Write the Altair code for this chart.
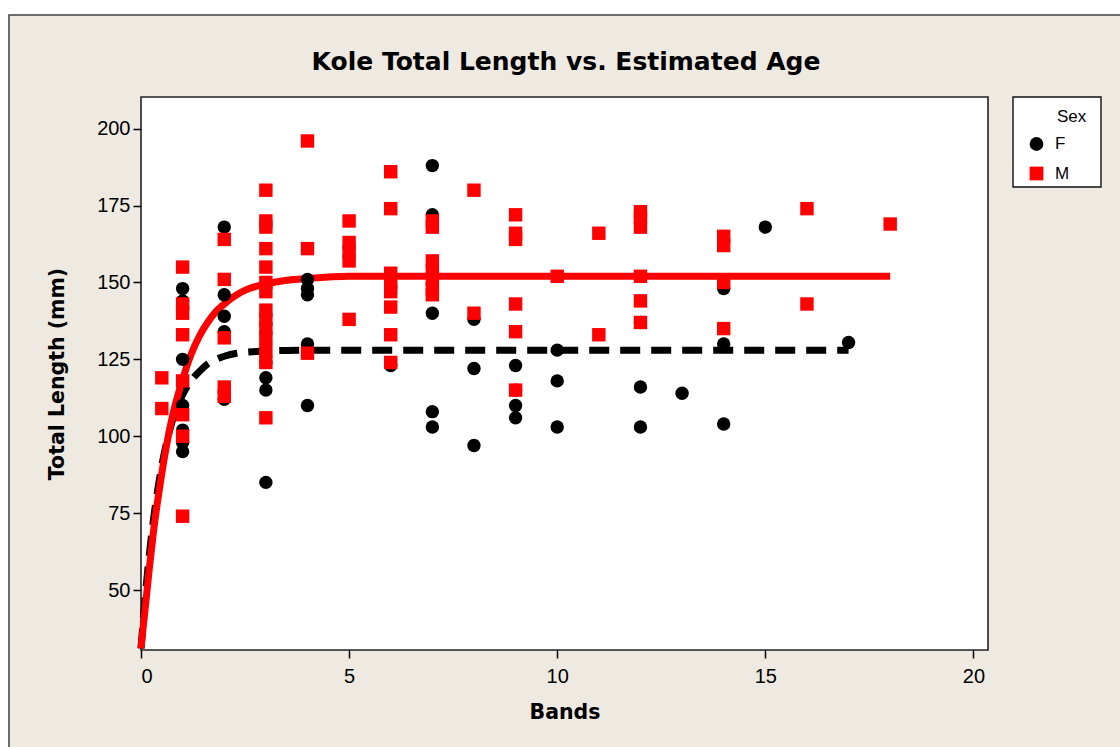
import altair as alt
import pandas as pd

# Kole: total length (mm) against estimated age (growth bands), by sex
f_bands = [1, 1, 1, 1, 1, 1, 1,
           2, 2, 2, 2, 2,
           3, 3, 3, 3,
           4, 4, 4, 4, 4,
           6,
           7, 7, 7, 7, 7,
           8, 8, 8,
           9, 9, 9, 9,
           10, 10, 10,
           12, 12, 12,
           13,
           14, 14, 14,
           15,
           17]
f_length = [148, 144, 125, 110, 102, 98, 95,
            168, 146, 139, 134, 112,
            124, 119, 115, 85,
            151, 148, 146, 130, 110,
            123,
            188, 172, 140, 108, 103,
            138, 122, 97,
            123, 115, 110, 106,
            128, 118, 103,
            137, 116, 103,
            114,
            148, 130, 104,
            168,
            130.5]

m_bands = [0.5, 0.5,
           1, 1, 1, 1, 1, 1, 1, 1,
           2, 2, 2, 2, 2,
           3, 3, 3, 3, 3, 3, 3, 3, 3, 3, 3, 3, 3, 3,
           4, 4, 4,
           5, 5, 5, 5, 5,
           6, 6, 6, 6, 6, 6, 6, 6,
           7, 7, 7, 7, 7, 7, 7,
           8, 8,
           9, 9, 9, 9, 9, 9,
           10,
           11, 11,
           12, 12, 12, 12, 12, 12,
           14, 14, 14, 14,
           16, 16,
           18]
m_length = [119, 109,
            155, 143, 140, 133, 118, 107, 100, 74,
            164, 151, 132, 116, 113,
            180, 170, 168, 161, 155, 150, 147, 141, 138, 135, 132, 128, 124, 106,
            196, 161, 127,
            170, 163, 160, 157, 138,
            186, 174, 153, 150, 147, 142, 133, 124,
            170, 168, 157, 154, 151, 148, 146,
            180, 140,
            172, 166, 164, 143, 134, 115,
            152,
            166, 133,
            173, 171, 168, 152, 144, 137,
            165, 162, 150, 135,
            174, 143,
            169]

# Fitted growth curves
f_fit_bands = [0, 0.1, 0.2, 0.3, 0.4, 0.5, 0.6, 0.7, 0.8, 0.9, 1.0, 1.2, 1.4,
               1.6, 1.8, 2.0, 2.3, 2.6, 3.0, 3.5, 4.0, 17.0]
f_fit_length = [31, 47.5, 61.5, 73, 82.5, 90.5, 97, 102.5, 107, 110.5, 113.5,
                118, 121, 123.5, 125, 126, 127, 127.4, 127.7, 127.9, 128, 128]

m_fit_bands = [0, 0.1, 0.2, 0.3, 0.4, 0.5, 0.6, 0.7, 0.8, 0.9, 1.0, 1.2, 1.4,
               1.6, 1.8, 2.0, 2.3, 2.6, 3.0, 3.5, 4.0, 5.0, 18.0]
m_fit_length = [31, 44, 57, 69, 79, 88, 96, 103, 109, 114, 118.5, 126.5, 132.5,
                137, 140.5, 143, 146, 148, 149.5, 150.7, 151.3, 152, 152]

x_ticks = [0, 5, 10, 15, 20]
y_ticks = [50, 75, 100, 125, 150, 175, 200]

TITLE = "Kole Total Length vs. Estimated Age"
BEIGE = "#EEEAE1"
TXT = "Liberation Sans"
HEAD = "DejaVu Sans"
W, H = 847, 553

points = pd.concat([
    pd.DataFrame({"Bands": f_bands, "Length": f_length, "Sex": "F"}),
    pd.DataFrame({"Bands": m_bands, "Length": m_length, "Sex": "M"}),
], ignore_index=True)
f_fit = pd.DataFrame({"Bands": f_fit_bands, "Length": f_fit_length})
m_fit = pd.DataFrame({"Bands": m_fit_bands, "Length": m_fit_length})
one = pd.DataFrame({"k": [0]})

x_scale = alt.Scale(domain=[0, 20.35], nice=False, zero=False)
y_scale = alt.Scale(domain=[30.5, 210.3], nice=False, zero=False)

x_axis = alt.Axis(values=x_ticks, format="d", grid=False, domain=False,
                  tickSize=8, tickWidth=1.5, tickColor="#000",
                  labelFont=TXT, labelFontSize=20, labelColor="#000", labelPadding=8,
                  title="Bands", titleFont=HEAD, titleFontSize=20.5,
                  titleFontWeight="bold", titleColor="#000", titlePadding=16,
                  zindex=1)
y_axis = alt.Axis(values=y_ticks, format="d", grid=False, domain=False,
                  tickSize=8, tickWidth=1.5, tickColor="#000",
                  labelFont=TXT, labelFontSize=20, labelColor="#000", labelPadding=3,
                  title="Total Length (mm)", titleFont=HEAD, titleFontSize=20.5,
                  titleFontWeight="bold", titleColor="#000", titlePadding=29,
                  zindex=1)

# symbols and labels of the legend; its box and heading are drawn as marks
legend = alt.Legend(title=None, orient="none", legendX=887, legendY=38.5,
                    padding=0, labelFont=TXT, labelFontSize=17, labelColor="#000",
                    labelOffset=10, symbolSize=190, symbolStrokeWidth=0,
                    rowPadding=11.5, zindex=1)

sex_color = alt.Scale(domain=["F", "M"], range=["#000000", "#FF0000"])
sex_shape = alt.Scale(domain=["F", "M"], range=["circle", "square"])

# page background with its frame, then the white plot panel
page = alt.Chart(one).mark_rect(fill=BEIGE, stroke="#404040", strokeWidth=1.5).encode(
    x=alt.value(-132), x2=alt.value(1200), y=alt.value(-82), y2=alt.value(900))
panel = alt.Chart(one).mark_rect(fill="white", stroke="#222", strokeWidth=1.6).encode(
    x=alt.value(0), x2=alt.value(W), y=alt.value(0), y2=alt.value(H))
heading = alt.Chart(one).mark_text(
    text=TITLE, font=HEAD, fontSize=25, fontWeight="bold", color="#000",
    align="center", baseline="middle").encode(x=alt.value(425), y=alt.value(-35))
legend_box = alt.Chart(one).mark_rect(fill="white", stroke="#111", strokeWidth=1.4).encode(
    x=alt.value(872), x2=alt.value(960), y=alt.value(0), y2=alt.value(90))
legend_head = alt.Chart(one).mark_text(
    text="Sex", font=TXT, fontSize=17, color="#000", align="left",
    baseline="middle").encode(x=alt.value(916), y=alt.value(20))

f_curve = alt.Chart(f_fit).mark_line(
    color="#000000", strokeWidth=7, strokeDash=[20, 11], strokeCap="butt",
    interpolate="monotone").encode(
    x=alt.X("Bands:Q", scale=x_scale, axis=x_axis),
    y=alt.Y("Length:Q", scale=y_scale, axis=y_axis))
m_curve = alt.Chart(m_fit).mark_line(
    color="#FF0000", strokeWidth=7, strokeCap="butt",
    interpolate="monotone").encode(
    x=alt.X("Bands:Q", scale=x_scale),
    y=alt.Y("Length:Q", scale=y_scale))

dots = alt.Chart(points).mark_point(filled=True, opacity=1, size=180, strokeWidth=0).encode(
    x=alt.X("Bands:Q", scale=x_scale),
    y=alt.Y("Length:Q", scale=y_scale),
    color=alt.Color("Sex:N", scale=sex_color, legend=legend),
    shape=alt.Shape("Sex:N", scale=sex_shape, legend=legend))

chart = alt.layer(page, panel, heading, legend_box, legend_head,
                  f_curve, m_curve, dots).properties(
    width=W, height=H,
    autosize=alt.AutoSizeParams(type="none"),
    padding={"left": 141, "top": 97, "right": 132, "bottom": 97},
    background="white",
).configure_view(strokeWidth=0)

chart.save("out.html", embed_options={"renderer": "svg", "actions": False})
